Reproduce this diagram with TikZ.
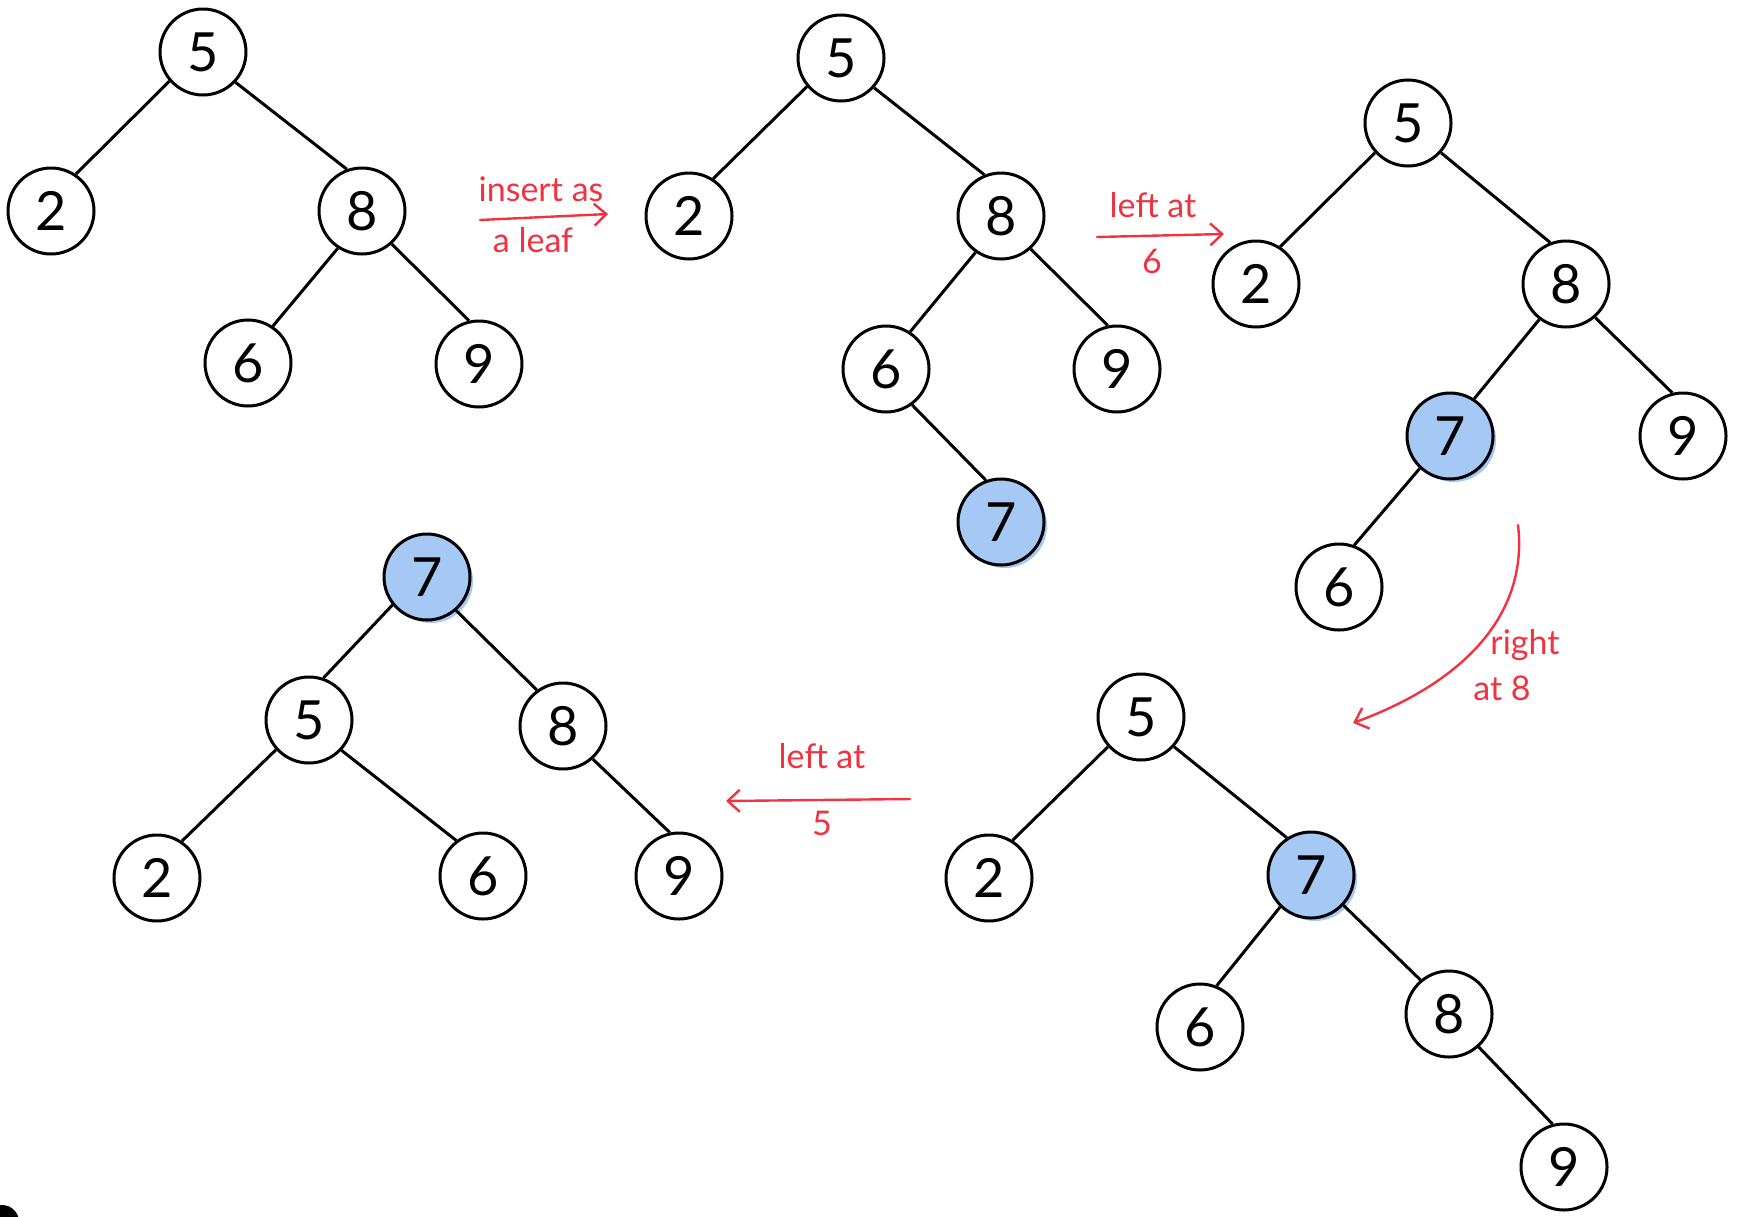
\documentclass[tikz,border=0pt]{standalone}
\usepackage{fontspec}
\setmainfont{Lato}
\usetikzlibrary{arrows.meta,backgrounds}
\definecolor{redink}{RGB}{240,50,65}
\definecolor{bluefill}{RGB}{165,200,245}
\begin{document}
\begin{tikzpicture}[x=0.5pt,y=-0.5pt,
  tn/.style={circle,draw=black,line width=1.5pt,minimum size=43pt,inner sep=0pt,fill=white,font=\fontsize{27}{30}\selectfont},
  hl/.style={tn,fill=bluefill},
  edge/.style={line width=1.5pt},
  note/.style={text=redink,font=\fontsize{17}{20}\selectfont,inner sep=0pt},
  redarrow/.style={draw=redink,line width=1.2pt,line cap=round,-{Straight Barb[length=6pt,width=11pt]}}]
\useasboundingbox (0,0) rectangle (1738,1216);
% Tree 1
\node[tn] (a5) at (203,52) {5};
\node[tn] (a2) at (51,211) {2};
\node[tn] (a8) at (362,211) {8};
\node[tn] (a6) at (248,363) {6};
\node[tn] (a9) at (479,364) {9};
\draw[edge] (a5.221) -- (a2.56);
\draw[edge] (a5.-43) -- (a8.110);
\draw[edge] (a8.-123) -- (a6.56);
\draw[edge] (a8.-48) -- (a9.103);
% Tree 2
\node[tn] (b5) at (841,58) {5};
\node[tn] (b2) at (689,216) {2};
\node[tn] (b8) at (1001,216) {8};
\node[tn] (b6) at (886,369) {6};
\node[tn] (b9) at (1117,369) {9};
\node[hl] (b7) at (1001,522) {7};
\draw[edge] (b5.220) -- (b2.57);
\draw[edge] (b5.-42) -- (b8.112);
\draw[edge] (b8.-125) -- (b6.57);
\draw[edge] (b8.-48) -- (b9.102);
\draw[edge] (b6.-54) -- (b7.110);
% Tree 3
\node[tn] (c5) at (1408,123) {5};
\node[tn] (c2) at (1256,284) {2};
\node[tn] (c8) at (1566,284) {8};
\node[hl] (c7) at (1450,436) {7};
\node[tn] (c9) at (1683,436) {9};
\node[tn] (c6) at (1339,587) {6};
\draw[edge] (c5.222) -- (c2.57);
\draw[edge] (c5.-42) -- (c8.111);
\draw[edge] (c8.-127) -- (c7.57);
\draw[edge] (c8.-49) -- (c9.104);
\draw[edge] (c7.-133) -- (c6.70);
% Tree 4
\node[tn] (d5) at (1141,717) {5};
\node[tn] (d2) at (989,878) {2};
\node[hl] (d7) at (1311,875) {7};
\node[tn] (d6) at (1200,1027) {6};
\node[tn] (d8) at (1449,1014) {8};
\node[tn] (d9) at (1564,1167) {9};
\draw[edge] (d5.222) -- (d2.58);
\draw[edge] (d5.-42) -- (d7.123);
\draw[edge] (d7.-134) -- (d6.68);
\draw[edge] (d7.-43) -- (d8.130);
\draw[edge] (d8.-48) -- (d9.105);
% Tree 5
\node[hl] (e7) at (427,577) {7};
\node[tn] (e5) at (309,720) {5};
\node[tn] (e8) at (563,726) {8};
\node[tn] (e2) at (157,878) {2};
\node[tn] (e6) at (483,876) {6};
\node[tn] (e9) at (679,876) {9};
\draw[edge] (e7.219) -- (e5.71);
\draw[edge] (e7.-49) -- (e8.126);
\draw[edge] (e5.222) -- (e2.56);
\draw[edge] (e5.-43) -- (e6.127);
\draw[edge] (e8.-48) -- (e9.102);
% sketchy blue offsets
\begin{scope}[on background layer]
\foreach \n in {b7,c7,d7,e7}
  \fill[bluefill] ([shift={(4,4)}]\n.center) circle[radius=21pt];
\end{scope}
% Annotations
\coordinate (r1s) at (480,220);
\coordinate (r1e) at (608,214);
\draw[redarrow] (r1s) -- (r1e);
\node[note] (t1a) at (541,189) {insert as};
\node[note] (t1b) at (533,240) {a leaf};
\coordinate (r2s) at (1097,237);
\coordinate (r2e) at (1224,234);
\draw[redarrow] (r2s) -- (r2e);
\node[note] (t2a) at (1153,205) {left at};
\node[note] (t2b) at (1152,261) {6};
\coordinate (r3s) at (1518,525);
\coordinate (r3e) at (1353,723);
\draw[redarrow] (r3s) .. controls (1528,610) and (1470,680) .. (r3e);
\node[note] (t3a) at (1525,645) {right};
\node[note] (t3b) at (1502,688) {at 8};
\coordinate (r4s) at (910,799);
\coordinate (r4e) at (726,801);
\draw[redarrow] (r4s) -- (r4e);
\node[note] (t4a) at (822,756) {left at};
\node[note] (t4b) at (822,823) {5};
% corner blob
\fill (2,1222) circle (17);
\end{tikzpicture}
\end{document}
